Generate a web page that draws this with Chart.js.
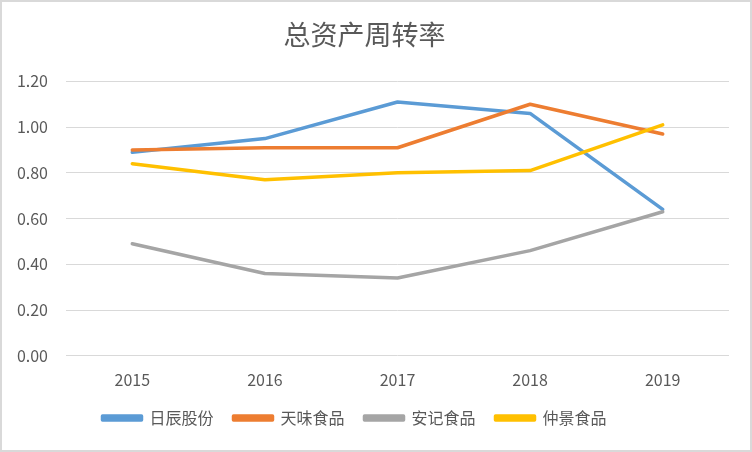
<!DOCTYPE html>
<html>
<head>
<meta charset="utf-8">
<script src="https://cdn.jsdelivr.net/npm/chart.js@4"></script>
<style>
  html, body { margin: 0; padding: 0; background: #fff; }
  #wrap { width: 752px; height: 452px; }
</style>
</head>
<body>
<div id="wrap"><canvas id="turnoverChart" width="752" height="452"></canvas></div>
<script>
const years = ['2015', '2016', '2017', '2018', '2019'];
const richen = [0.89, 0.95, 1.11, 1.06, 0.64];
const tianwei = [0.90, 0.91, 0.91, 1.10, 0.97];
const anji = [0.49, 0.36, 0.34, 0.46, 0.63];
const zhongjing = [0.84, 0.77, 0.80, 0.81, 1.01];
const seriesNames = ['日辰股份', '天味食品', '安记食品', '仲景食品'];
const yTicks = [0, 0.2, 0.4, 0.6, 0.8, 1.0, 1.2];

const fontFamily = '"Noto Sans CJK SC", "Noto Sans", sans-serif';
const textColor = '#595959';

// white background + thin frame like the Excel chart area
const framePlugin = {
    id: 'frame',
    beforeDraw(chart) {
        const ctx = chart.ctx;
        ctx.save();
        ctx.fillStyle = '#ffffff';
        ctx.fillRect(0, 0, chart.width, chart.height);
        ctx.strokeStyle = '#d9d9d9';
        ctx.lineWidth = 2;
        ctx.strokeRect(1, 1, chart.width - 2, chart.height - 2);
        ctx.restore();
    },
    afterLayout(chart) {
        // excel puts the legend a little left of centre and closer to the axis
        const lg = chart.legend;
        lg.left -= 10;
        lg.right -= 10;
        lg.top -= 15;
        lg.bottom -= 15;
    }
};

function makeSet(label, data, color, order) {
    return {
        label: label,
        data: data,
        borderColor: color,
        backgroundColor: color,
        borderWidth: 3.5,
        pointRadius: 0,
        tension: 0,
        borderCapStyle: 'round',
        borderJoinStyle: 'round',
        order: order
    };
}

new Chart(document.getElementById('turnoverChart'), {
    type: 'line',
    data: {
        labels: years,
        datasets: [
            makeSet(seriesNames[0], richen, '#5B9BD5', 4),
            makeSet(seriesNames[1], tianwei, '#ED7D31', 3),
            makeSet(seriesNames[2], anji, '#A5A5A5', 2),
            makeSet(seriesNames[3], zhongjing, '#FFC000', 1)
        ]
    },
    options: {
        responsive: false,
        animation: false,
        devicePixelRatio: 1,
        layout: {
            padding: { left: 0, right: 23, top: 0, bottom: 1 }
        },
        plugins: {
            title: {
                display: true,
                text: '总资产周转率',
                color: textColor,
                font: { family: fontFamily, size: 27, weight: 'normal' },
                padding: { top: 19, bottom: 30 }
            },
            legend: {
                position: 'bottom',
                labels: {
                    color: textColor,
                    font: { family: fontFamily, size: 16 },
                    boxWidth: 39,
                    boxHeight: 4,
                    padding: 20,
                    sort: (a, b) => a.datasetIndex - b.datasetIndex
                }
            },
            tooltip: { enabled: false }
        },
        scales: {
            x: {
                offset: true,
                grid: { display: false, drawTicks: false },
                border: { display: false },
                ticks: {
                    color: textColor,
                    font: { family: fontFamily, size: 16 },
                    padding: 15,
                    maxRotation: 0
                }
            },
            y: {
                min: 0,
                max: 1.2,
                afterFit(scale) { scale.width = 66; },
                afterBuildTicks(scale) { scale.ticks = yTicks.map(v => ({ value: v })); },
                grid: { color: '#d9d9d9', lineWidth: 1, drawTicks: false },
                border: { display: false },
                ticks: {
                    color: textColor,
                    font: { family: fontFamily, size: 16 },
                    padding: 18,
                    callback: (v) => Number(v).toFixed(2)
                }
            }
        }
    },
    plugins: [framePlugin]
});
</script>
</body>
</html>
